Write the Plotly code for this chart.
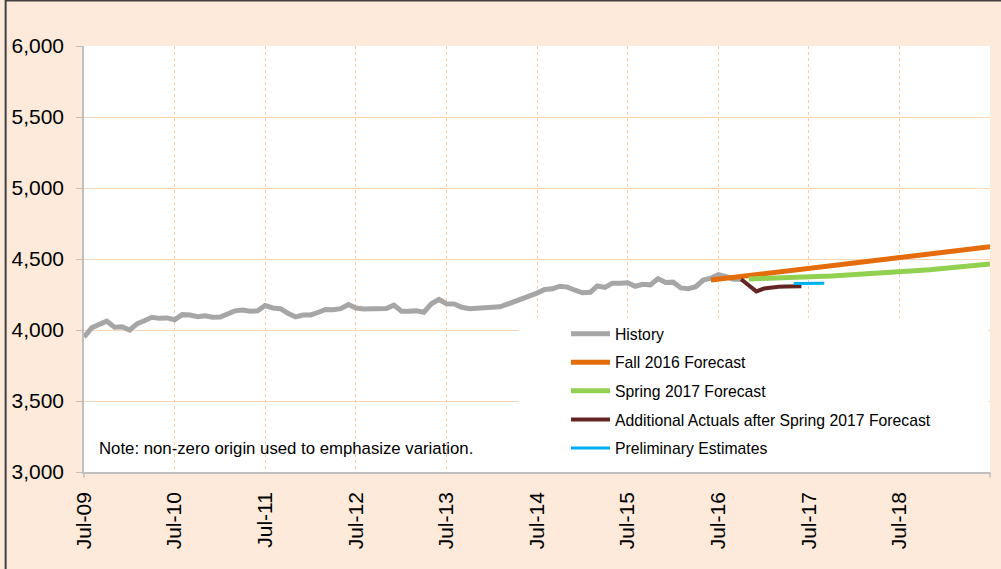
import pandas as pd
import plotly.graph_objects as go

# ---- data (monthly) ----
axis_start = "2009-07-01"
axis_end = "2019-07-01"

history_start = "2009-07-01"
history = [
    3950, 4015, 4040, 4062, 4020, 4023, 4000, 4045, 4065, 4090, 4082, 4085,
    4072, 4108, 4105, 4094, 4100, 4090, 4092, 4110, 4135, 4140, 4132, 4135,
    4172, 4155, 4150, 4118, 4092, 4105, 4106, 4125, 4145, 4142, 4150, 4180,
    4155, 4148, 4148, 4150, 4152, 4175, 4132, 4132, 4136, 4125, 4185, 4215,
    4185, 4183, 4160, 4150, 4155, 4160, 4162, 4163, 4180, 4198, 4220, 4235,
    4260, 4285, 4290, 4308, 4302, 4280, 4262, 4265, 4310, 4300, 4330, 4330,
    4333, 4308, 4322, 4318, 4362, 4335, 4337, 4296, 4290, 4305, 4352, 4365,
    4390, 4375, 4358, 4357,
]

fall2016_start = "2016-06-01"
fall2016 = [
    4352, 4358, 4364, 4371, 4377, 4383, 4390, 4396, 4402, 4409, 4415, 4421,
    4428, 4434, 4440, 4447, 4453, 4459, 4466, 4472, 4478, 4485, 4491, 4497,
    4504, 4510, 4516, 4523, 4529, 4535, 4542, 4548, 4554, 4561, 4567, 4573,
    4580, 4586,
]

spring2017_start = "2016-11-01"
spring2017 = [
    4360, 4361, 4362, 4364, 4365, 4367, 4369, 4371, 4373, 4375, 4378, 4380,
    4383, 4386, 4388, 4392, 4395, 4398, 4402, 4405, 4409, 4413, 4417, 4421,
    4425, 4430, 4435, 4439, 4444, 4449, 4454, 4460, 4465,
]

additional_start = "2016-10-01"
additional = [4357, 4318, 4272, 4292, 4300, 4305, 4306, 4308, 4308]

prelim_start = "2017-05-01"
prelim = [4328, 4328, 4329, 4329, 4330]

tick_dates = ["2009-07-01", "2010-07-01", "2011-07-01", "2012-07-01", "2013-07-01",
              "2014-07-01", "2015-07-01", "2016-07-01", "2017-07-01", "2018-07-01",
              "2019-07-01"]
tick_labels = ["Jul-09", "Jul-10", "Jul-11", "Jul-12", "Jul-13", "Jul-14",
               "Jul-15", "Jul-16", "Jul-17", "Jul-18", ""]

y_ticks = [3000, 3500, 4000, 4500, 5000, 5500, 6000]


def months(start, n):
    return pd.date_range(start, periods=n, freq="MS")


FONT = "Liberation Sans, Arial, sans-serif"
BG = "#FDEADA"

fig = go.Figure()
series = [
    ("History", history_start, history, "#A6A6A6", 5),
    ("Fall 2016 Forecast", fall2016_start, fall2016, "#E46C0A", 5),
    ("Spring 2017 Forecast", spring2017_start, spring2017, "#92D050", 5),
    ("Additional Actuals after Spring 2017 Forecast", additional_start, additional, "#632523", 4),
    ("Preliminary Estimates", prelim_start, prelim, "#00B0F0", 3),
]
for i, (name, start, vals, color, w) in enumerate(series):
    fig.add_trace(go.Scatter(
        x=months(start, len(vals)), y=vals, name=name, mode="lines",
        line=dict(color=color, width=w), legendgroup=f"g{i}",
        hoverinfo="skip",
    ))

fig.update_layout(
    width=1001, height=569,
    margin=dict(l=84, r=11, t=46, b=97),
    paper_bgcolor=BG, plot_bgcolor="white",
    font=dict(family=FONT, color="black"),
    showlegend=True,
    legend=dict(
        x=0.532, y=0.364, xanchor="left", yanchor="top",
        bgcolor="rgba(0,0,0,0)", font=dict(size=15.75, family=FONT, color="black"),
        itemwidth=39, traceorder="grouped", tracegroupgap=5.1,
    ),
    xaxis=dict(
        type="date", range=[axis_start, axis_end],
        tickmode="array", tickvals=tick_dates, ticktext=tick_labels,
        tickangle=-90, tickfont=dict(size=21, family=FONT, color="black"),
        showgrid=True, gridcolor="#F9CDA8", griddash="dot", gridwidth=1,
        showline=True, linecolor="#BFBFBF", linewidth=1.5,
        ticks="", ticklabelstandoff=10, zeroline=False,
    ),
    yaxis=dict(
        range=[3000, 6000], tickmode="array", tickvals=y_ticks,
        tickformat=",d", tickfont=dict(size=21, family=FONT, color="black"),
        showgrid=True, gridcolor="#FCD5B5", gridwidth=1,
        showline=True, linecolor="#BFBFBF", linewidth=1.5,
        ticks="outside", ticklen=6, tickcolor="#BFBFBF", tickwidth=1,
        ticklabelstandoff=8, zeroline=False,
    ),
    shapes=[
        # white legend panel
        dict(type="rect", xref="paper", yref="paper", x0=0.480, x1=0.998,
             y0=0.004, y1=0.3615, fillcolor="white", line=dict(width=0),
             layer="above"),
        # outer chart border (left & top)
        dict(type="line", xref="paper", yref="paper", x0=-0.0865, x1=-0.0865,
             y0=-0.23, y1=1.11, line=dict(color="#404040", width=2)),
        dict(type="line", xref="paper", yref="paper", x0=-0.0865, x1=1.02,
             y0=1.1068, y1=1.1068, line=dict(color="#404040", width=2)),
        # x-axis end ticks
        dict(type="line", xref="paper", yref="paper", x0=0, x1=0,
             y0=0, y1=-0.013, line=dict(color="#BFBFBF", width=1.5)),
        dict(type="line", xref="paper", yref="paper", x0=1, x1=1,
             y0=0, y1=-0.013, line=dict(color="#BFBFBF", width=1.5)),
    ],
    annotations=[
        dict(text="Note: non-zero origin used to emphasize variation.",
             xref="paper", yref="paper", x=0.0143, y=0.056,
             xanchor="left", yanchor="middle", showarrow=False,
             font=dict(size=16.75, family=FONT, color="black")),
    ],
)

fig.write_html(
    "out.html",
    config={"displayModeBar": False},
    post_script="document.body.style.margin='0px';document.body.style.overflow='hidden';",
)
